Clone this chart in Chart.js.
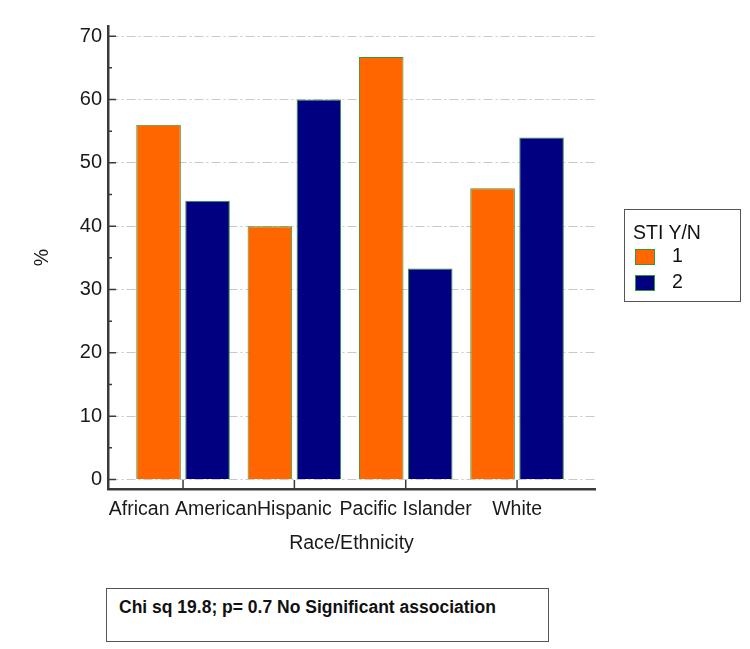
<!DOCTYPE html>
<html>
<head>
<meta charset="utf-8">
<script src="https://cdn.jsdelivr.net/npm/chart.js@4.4.0/dist/chart.umd.min.js"></script>
<style>
    body { margin: 0; background: #fff; font-family: "Liberation Sans", Arial, sans-serif; }
    #wrap { position: relative; width: 750px; height: 649px; }
    #chartBox { position: absolute; left: 0; top: 0; width: 750px; height: 570px; }
    #legendBox { position: absolute; left: 624px; top: 209px; width: 117px; height: 93px; border: 1px solid #555; box-sizing: border-box; color: #111; }
    #legendTitle { position: absolute; left: 8px; top: 11px; font-size: 19.5px; line-height: 22px; white-space: nowrap; }
    .legendItem { position: absolute; left: 10px; height: 16px; }
    .legendSwatch { position: absolute; left: 0; top: 0; width: 20px; height: 16px; box-sizing: border-box; border: 1px solid #339933; }
    .legendText { position: absolute; left: 37px; top: -5px; font-size: 19.5px; line-height: 22px; }
    #noteBox { position: absolute; left: 106px; top: 588px; width: 443px; height: 54px; border: 1px solid #555; box-sizing: border-box; }
    #noteText { position: absolute; left: 12px; top: 8px; font-size: 17.5px; font-weight: bold; color: #111; white-space: nowrap; }
</style>
</head>
<body>
<div id="wrap">
    <div id="chartBox"><canvas id="stiChart"></canvas></div>
    <div id="legendBox"><div id="legendTitle"></div></div>
    <div id="noteBox"><div id="noteText">Chi sq 19.8; p= 0.7 No Significant association</div></div>
</div>
<script>
const categories = ['African American', 'Hispanic', 'Pacific Islander', 'White'];
const seriesNames = ['1', '2'];
const stiYes = [56.0, 40.0, 66.7, 46.0];
const stiNo = [44.0, 60.0, 33.3, 54.0];
const legendTitle = 'STI Y/N';

const ORANGE = '#FF6600';
const NAVY = '#000080';
const BAR_BORDER = '#339933';
const AXIS_COLOR = '#3a3a3a';

Chart.defaults.font.family = '"Liberation Sans", Arial, sans-serif';
Chart.defaults.color = '#1a1a1a';

const toPoints = function (values) {
    return values.map(function (v, i) {
        return { x: i, y: v };
    });
}

// small inward tick marks like the original plot
const innerTicks = {
    id: 'innerTicks',
    afterDatasetsDraw: function (chart) {
        const ctx = chart.ctx;
        const x = chart.scales.x;
        const y = chart.scales.y;
        const left = chart.chartArea.left;
        const bottom = chart.chartArea.bottom;
        ctx.save();
        ctx.strokeStyle = AXIS_COLOR;
        ctx.lineWidth = 1.5;
        ctx.beginPath();
        y.ticks.forEach(function (t) {
            const py = y.getPixelForValue(t.value);
            ctx.moveTo(left, py);
            ctx.lineTo(left + 8, py);
            if (t.value + 5 <= y.max) {
                const my = y.getPixelForValue(t.value + 5);
                ctx.moveTo(left, my);
                ctx.lineTo(left + 4, my);
            }
        });
        x.ticks.forEach(function (t) {
            const px = x.getPixelForValue(t.value);
            ctx.moveTo(px, bottom);
            ctx.lineTo(px, bottom - 9);
        });
        ctx.stroke();
        ctx.restore();
    }
};

const stiChart = new Chart(document.getElementById('stiChart'), {
    type: 'bar',
    data: {
        datasets: [{
            label: seriesNames[0],
            data: toPoints(stiYes),
            backgroundColor: ORANGE,
            borderColor: BAR_BORDER,
            borderWidth: 1
        }, {
            label: seriesNames[1],
            data: toPoints(stiNo),
            backgroundColor: NAVY,
            borderColor: BAR_BORDER,
            borderWidth: 1
        }]
    },
    options: {
        responsive: true,
        maintainAspectRatio: false,
        animation: false,
        categoryPercentage: 0.88,
        barPercentage: 0.91,
        layout: { padding: { left: 0, top: 26, right: 155, bottom: 10 } },
        plugins: {
            legend: { display: false },
            tooltip: { enabled: false }
        },
        scales: {
            x: {
                type: 'linear',
                offset: false,
                min: -0.674,
                max: 3.70,
                afterBuildTicks: function (axis) {
                    axis.ticks = categories.map(function (c, i) { return { value: i }; });
                },
                afterFit: function (scale) { scale.height = 71; },
                grid: { offset: false, drawOnChartArea: false, drawTicks: false },
                border: { color: AXIS_COLOR, width: 2.5 },
                ticks: {
                    autoSkip: false,
                    maxRotation: 0,
                    minRotation: 0,
                    padding: 9,
                    font: { size: 19.5 },
                    callback: function (value) { return categories[value] || ''; }
                },
                title: {
                    display: true,
                    text: 'Race/Ethnicity',
                    font: { size: 19.5 },
                    padding: { top: 0, bottom: 5 }
                }
            },
            y: {
                min: -1.5,
                max: 71.6,
                afterFit: function (scale) { scale.width = 108; },
                grid: { color: '#c9c9c9', lineWidth: 1, drawTicks: false },
                border: { color: AXIS_COLOR, width: 2.5, dash: [9, 3, 2, 3] },
                ticks: {
                    stepSize: 10,
                    includeBounds: false,
                    padding: 6,
                    font: { size: 20 }
                },
                title: {
                    display: true,
                    text: '%',
                    font: { size: 19.5 },
                    padding: { top: 31, bottom: 0 }
                }
            }
        }
    },
    plugins: [innerTicks]
});

// html legend built from the chart datasets
const buildLegend = function (chart) {
    const box = document.getElementById('legendBox');
    document.getElementById('legendTitle').textContent = legendTitle;
    chart.data.datasets.forEach(function (ds, i) {
        const item = document.createElement('div');
        item.className = 'legendItem';
        item.style.top = (39 + i * 26) + 'px';
        const swatch = document.createElement('div');
        swatch.className = 'legendSwatch';
        swatch.style.background = ds.backgroundColor;
        const text = document.createElement('div');
        text.className = 'legendText';
        text.textContent = ds.label;
        item.appendChild(swatch);
        item.appendChild(text);
        box.appendChild(item);
    });
}

buildLegend(stiChart);
</script>
</body>
</html>
